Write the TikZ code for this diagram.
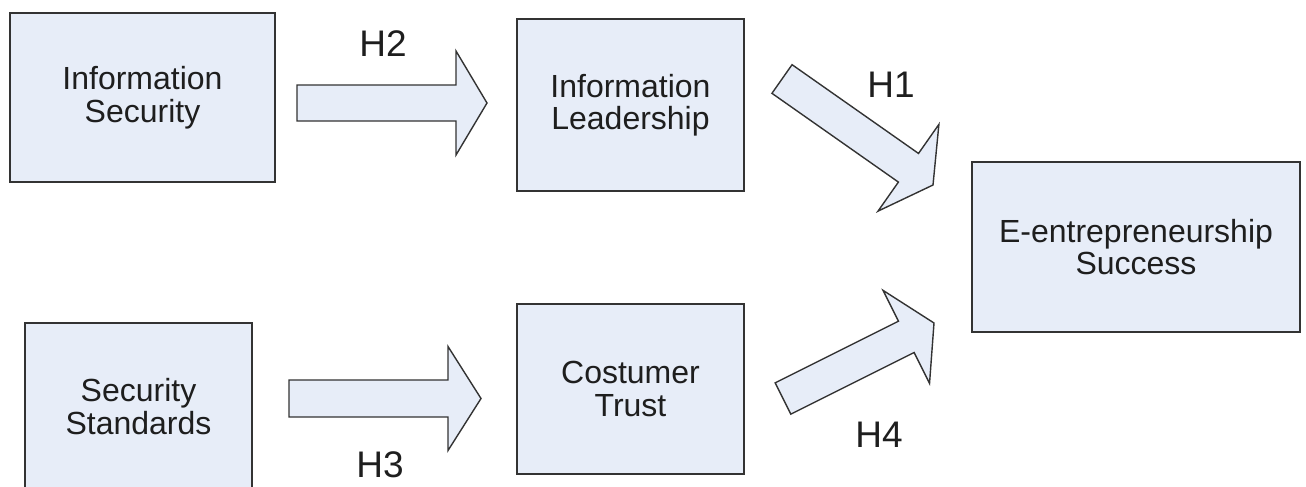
\documentclass[tikz,border=0pt]{standalone}
\usepackage{fontspec}
\setmainfont{Liberation Sans}
\usetikzlibrary{calc}

\definecolor{boxfill}{HTML}{E7EDF8}
\definecolor{boxline}{HTML}{333333}
\definecolor{inkcol}{HTML}{1E1E1E}

% Block arrow from a tail point to a tip point:
% #1 tail, #2 tip, #3 shaft half-width, #4 head half-width, #5 head length
\newcommand\drawblockarrow[5]{%
  \coordinate (hb) at ($(#2)!#5!(#1)$);
  \draw[blockarrow]
    ($(#1)!#3!90:(#2)$) -- ($(hb)!#3!90:(#2)$) -- ($(hb)!#4!90:(#2)$) --
    (#2) --
    ($(hb)!#4!-90:(#2)$) -- ($(hb)!#3!-90:(#2)$) -- ($(#1)!#3!-90:(#2)$) -- cycle;
}

\begin{document}
\begin{tikzpicture}[x=1pt, y=-1pt,
  box/.style={draw=boxline, line width=2pt, fill=boxfill, text=inkcol,
    align=center, font=\fontsize{32}{32.5}\selectfont, inner sep=0pt},
  blockarrow/.style={draw=boxline, line width=1.4pt, fill=boxfill, line join=miter},
  hlabel/.style={text=inkcol, font=\fontsize{37}{40}\selectfont, anchor=base, inner sep=0pt}]
\useasboundingbox (0,0) rectangle (1306,487);
\clip (0,0) rectangle (1306,487);

% concept boxes
\node[box, minimum width=265pt, minimum height=169pt] (infosec) at (142.5,97.5) {Information\\Security};
\node[box, minimum width=227pt, minimum height=172pt] (infolead) at (630.5,105) {Information\\Leadership};
\node[box, minimum width=227pt, minimum height=167pt] (secstd) at (138.5,406.5) {Security\\Standards};
\node[box, minimum width=227pt, minimum height=170pt] (trust) at (630.5,389) {Costumer\\Trust};
\node[box, minimum width=328pt, minimum height=170pt] (success) at (1136,247) {E-entrepreneurship\\Success};

% end points of the hypothesis arrows
\coordinate (h2tail) at (297,103);
\coordinate (h2tip)  at (487,103);
\coordinate (h3tail) at (289,398.5);
\coordinate (h3tip)  at (481,398.5);
\coordinate (h1tail) at (782,79);
\coordinate (h1tip)  at (933,185);
\coordinate (h4tail) at (783,398.5);
\coordinate (h4tip)  at (934,323);

\drawblockarrow{h2tail}{h2tip}{18pt}{52pt}{31pt}
\drawblockarrow{h3tail}{h3tip}{18.5pt}{52pt}{33pt}
\drawblockarrow{h1tail}{h1tip}{17.5pt}{53pt}{30pt}
\drawblockarrow{h4tail}{h4tip}{17.5pt}{52pt}{31pt}

% hypothesis labels
\node[hlabel] (lh2) at (383,57) {H2};
\node[hlabel] (lh1) at (891,97) {H1};
\node[hlabel] (lh3) at (380,477) {H3};
\node[hlabel] (lh4) at (879,447) {H4};
\end{tikzpicture}
\end{document}
